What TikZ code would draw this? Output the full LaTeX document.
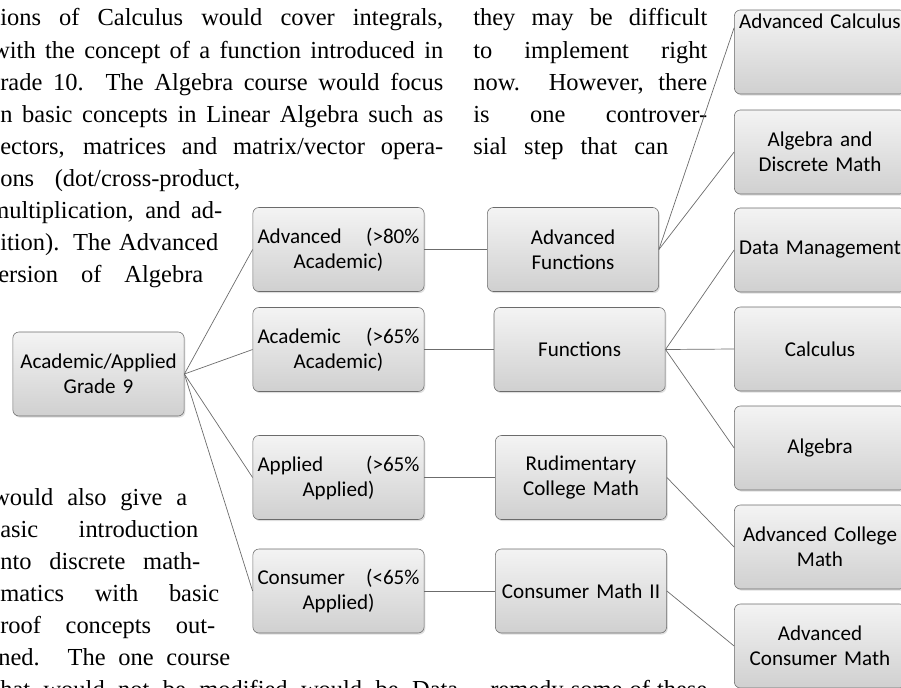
\documentclass[tikz,border=0pt]{standalone}
\usepackage{fontspec}
\setmainfont{Liberation Serif}
\newfontfamily\boxfont{Carlito}
\usetikzlibrary{calc,shadows}

\begin{document}
\begin{tikzpicture}[
  txt/.style={anchor=base west,inner sep=0pt,font=\fontsize{17.4}{22.8}\selectfont},
  smbox/.style={draw=black!58,rounded corners=0.15cm,top color=gray!9,bottom color=gray!37,
    minimum width=4.28cm,minimum height=2.1cm,text width=4.05cm,align=center,inner sep=0pt,
    font=\boxfont\fontsize{15}{17.8}\selectfont,
    drop shadow={opacity=0.25,shadow xshift=0.03cm,shadow yshift=-0.04cm}},
  link/.style={draw=gray!85!black,line width=0.5pt}]
\useasboundingbox (0,0) rectangle (22.525,-17.175);
\node[txt] (l1) at (0.0,-0.65) {\makebox[11.075cm][s]{ions of Calculus would cover integrals,}};
\node[txt] (l2) at (-0.2,-1.45) {\makebox[11.275cm][s]{with the concept of a function introduced in}};
\node[txt] (l3) at (0.0,-2.25) {\makebox[11.075cm][s]{rade 10. The Algebra course would focus}};
\node[txt] (l4) at (0.0,-3.05) {\makebox[11.075cm][s]{n basic concepts in Linear Algebra such as}};
\node[txt] (l5) at (0.0,-3.85) {\makebox[11.075cm][s]{ectors, matrices and matrix/vector opera-}};
\node[txt] (l6) at (0.0,-4.65) {\makebox[6.0cm][s]{ons (dot/cross-product,}};
\node[txt] (l7) at (-0.25,-5.45) {\makebox[5.8cm][s]{multiplication, and ad-}};
\node[txt] (l8) at (0.0,-6.25) {\makebox[5.45cm][s]{ition). The Advanced}};
\node[txt] (l9) at (-0.05,-7.05) {\makebox[5.125cm][s]{ersion of Algebra}};
\node[txt] (b1) at (-0.2,-12.625) {\makebox[4.875cm][s]{would also give a}};
\node[txt] (b2) at (0.0,-13.425) {\makebox[4.95cm][s]{asic introduction}};
\node[txt] (b3) at (0.0,-14.225) {\makebox[5.0cm][s]{nto discrete math-}};
\node[txt] (b4) at (0.0,-15.025) {\makebox[5.475cm][s]{matics with basic}};
\node[txt] (b5) at (0.0,-15.825) {\makebox[5.375cm][s]{roof concepts out-}};
\node[txt] (b6) at (-0.05,-16.625) {\makebox[5.8cm][s]{ned. The one course}};
\node[txt] (b7) at (0.0,-17.425) {\makebox[11.45cm][s]{hat would not be modified would be Data}};
\node[txt] (r1) at (11.825,-0.65) {\makebox[5.85cm][s]{they may be difficult}};
\node[txt] (r2) at (11.825,-1.45) {\makebox[5.85cm][s]{to implement right}};
\node[txt] (r3) at (11.825,-2.25) {\makebox[5.85cm][s]{now. However, there}};
\node[txt] (r4) at (11.825,-3.05) {\makebox[5.85cm][s]{is one controver-}};
\node[txt] (r5) at (11.825,-3.85) {\makebox[4.875cm][s]{sial step that can}};
\node[txt] (r6) at (12.25,-17.425) {\makebox[5.425cm][s]{remedy some of these}};
\node[smbox] (root) at (2.4625,-9.35) {Academic/Applied\\Grade 9};
\node[smbox] (adv) at (8.4625,-6.2375) {\hbox to 4.05cm{Advanced\hfill(>80\%}\\Academic)};
\node[smbox] (acad) at (8.4625,-8.7375) {\hbox to 4.05cm{Academic\hfill(>65\%}\\Academic)};
\node[smbox] (appl) at (8.4625,-11.9375) {\hbox to 4.05cm{Applied\hfill(>65\%}\\Applied)};
\node[smbox] (cons) at (8.4625,-14.775) {\hbox to 4.05cm{Consumer\hfill(<65\%}\\Applied)};
\node[smbox] (advfun) at (14.325,-6.2375) {Advanced\\Functions};
\node[smbox] (fun) at (14.49,-8.7375) {Functions};
\node[smbox] (rudim) at (14.525,-11.9375) {Rudimentary\\College Math};
\node[smbox] (consii) at (14.525,-14.775) {Consumer Math II};
\node[smbox] (advcalc) at (20.5,-1.3) {\parbox[c][2.1cm][t]{4.05cm}{\centering\vspace{0.1cm}Advanced Calculus}};
\node[smbox] (algdisc) at (20.5,-3.8) {Algebra and\\Discrete Math};
\node[smbox] (datamgmt) at (20.5,-6.25) {Data Management};
\node[smbox] (calc) at (20.5,-8.725) {Calculus};
\node[smbox] (alg) at (20.5,-11.2) {Algebra};
\node[smbox] (advcoll) at (20.5,-13.675) {Advanced College\\Math};
\node[smbox] (advcons) at (20.5,-16.15) {Advanced\\Consumer Math};
\draw[link] (root.east) -- (adv.west);
\draw[link] (root.east) -- (acad.west);
\draw[link] (root.east) -- (appl.west);
\draw[link] (root.east) -- (cons.west);
\draw[link] (adv.east) -- (advfun.west);
\draw[link] (acad.east) -- (fun.west);
\draw[link] (appl.east) -- (rudim.west);
\draw[link] (cons.east) -- (consii.west);
\draw[link] (advfun.east) -- ($(advcalc.north west)+(0,-0.45)$);
\draw[link] (advfun.east) -- (algdisc.west);
\draw[link] (fun.east) -- (datamgmt.west);
\draw[link] (fun.east) -- (calc.west);
\draw[link] (fun.east) -- (alg.west);
\draw[link] (rudim.east) -- (advcoll.west);
\draw[link] (consii.east) -- (advcons.west);
\end{tikzpicture}
\end{document}
